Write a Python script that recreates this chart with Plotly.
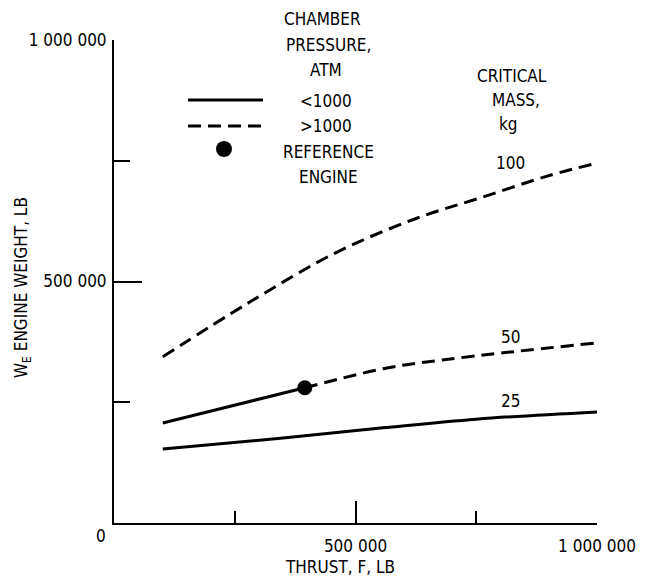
import plotly.graph_objects as go

# ---- data ----
thrust_100 = [101000, 282000, 462000, 627000, 764000, 903000, 1000000]
weight_100 = [344000, 458000, 561000, 631000, 675000, 720000, 745000]

thrust_50_solid = [101000, 395000]
weight_50_solid = [207000, 280000]
thrust_50_dash = [395000, 565000, 676000, 821000, 1000000]
weight_50_dash = [280000, 321000, 337000, 354000, 373000]

thrust_25 = [101000, 350000, 557000, 750000, 1000000]
weight_25 = [153000, 176000, 197000, 215000, 230000]

ref_thrust = [395000]
ref_weight = [280000]

x_tickvals = [0, 500000, 1000000]
x_ticktext = ["", "500 000", "1 000 000"]
y_tickvals = [0, 500000, 1000000]
y_ticktext = ["", "500 000", "1 000 000"]

curve_labels = ["100", "50", "25"]
curve_label_pos = [(820000, 746000), (820000, 385000), (820000, 252000)]

FONT = "DejaVu Sans Condensed, Liberation Sans Narrow, Arial Narrow, sans-serif"
FS = 17
LW = 3
DASH = "13px,7px"

fig = go.Figure()
fig.add_trace(go.Scatter(x=thrust_100, y=weight_100, mode="lines",
                         line=dict(color="black", width=LW, dash=DASH, shape="spline"),
                         showlegend=False))
fig.add_trace(go.Scatter(x=thrust_50_solid, y=weight_50_solid, mode="lines",
                         line=dict(color="black", width=LW), showlegend=False))
fig.add_trace(go.Scatter(x=thrust_50_dash, y=weight_50_dash, mode="lines",
                         line=dict(color="black", width=LW, dash=DASH, shape="spline"),
                         showlegend=False))
fig.add_trace(go.Scatter(x=thrust_25, y=weight_25, mode="lines",
                         line=dict(color="black", width=LW, shape="spline"),
                         showlegend=False))
fig.add_trace(go.Scatter(x=ref_thrust, y=ref_weight, mode="markers",
                         marker=dict(color="black", size=15), showlegend=False,
                         cliponaxis=False))

annotations = []
for lab, (lx, ly) in zip(curve_labels, curve_label_pos):
    annotations.append(dict(x=lx, y=ly, xref="x", yref="y", text=lab, showarrow=False,
                            xanchor="center", yanchor="middle",
                            font=dict(size=FS, color="black", family=FONT)))

def pa(x, y, text, size=FS, **kw):
    annotations.append(dict(x=x, y=y, xref="paper", yref="paper", text=text,
                            showarrow=False, xanchor="center", yanchor="middle",
                            font=dict(size=size, color="black", family=FONT), **kw))

# page body has an 8px margin: the figure is placed at (8, 8) in the window
OFF = 8
W, H = 645 - OFF, 581 - OFF
L, R, T, B = 114 - OFF, 48, 40 - OFF, 58
pw, ph = W - L - R, H - T - B

def px2paper(xp, yp):
    # xp, yp: pixel position in the window
    return (xp - OFF - L) / pw, (H - B - (yp - OFF)) / ph

# Legend block (chamber pressure) and critical mass header
for txt, (xp, yp) in [("CHAMBER", (322, 19)), ("PRESSURE,", (328, 45)), ("ATM", (326, 70)),
                      ("&lt;1000", (326, 101)), ("&gt;1000", (326, 126)),
                      ("REFERENCE", (328, 152)), ("ENGINE", (328, 177)),
                      ("CRITICAL", (512, 76)), ("MASS,", (516, 100)), ("kg", (508, 124))]:
    xx, yy = px2paper(xp, yp)
    pa(xx, yy, txt)

# axis titles and origin label
xx, yy = px2paper(340, 567)
pa(xx, yy, "THRUST, F, LB")
xx, yy = px2paper(22, 288)
pa(xx, yy, "W<sub>E</sub> ENGINE WEIGHT, LB", textangle=-90)
xx, yy = px2paper(101, 536)
pa(xx, yy, "0")

# legend sample lines and marker
shapes = []
x0, y0 = px2paper(188, 100)
x1, _ = px2paper(263, 100)
shapes.append(dict(type="line", xref="paper", yref="paper", x0=x0, x1=x1, y0=y0, y1=y0,
                   line=dict(color="black", width=LW)))
x0, y0 = px2paper(188, 126)
x1, _ = px2paper(263, 126)
shapes.append(dict(type="line", xref="paper", yref="paper", x0=x0, x1=x1, y0=y0, y1=y0,
                   line=dict(color="black", width=LW, dash=DASH)))
cx, cy = px2paper(224, 149)
rx, ry = 8 / pw, 8 / ph
shapes.append(dict(type="circle", xref="paper", yref="paper", x0=cx - rx, x1=cx + rx,
                   y0=cy - ry, y1=cy + ry, fillcolor="black", line=dict(color="black", width=0)))

fig.update_layout(
    width=W, height=H,
    margin=dict(l=L, r=R, t=T, b=B, pad=0, autoexpand=False),
    paper_bgcolor="white", plot_bgcolor="white",
    font=dict(family=FONT, size=FS, color="black"),
    annotations=annotations, shapes=shapes,
    showlegend=False,
)
fig.update_xaxes(range=[0, 1000000], showgrid=False, zeroline=False, automargin=False,
                 showline=True, linecolor="black", linewidth=2,
                 ticks="inside", ticklen=22, tickwidth=2, tickcolor="black",
                 tickvals=x_tickvals, ticktext=x_ticktext, ticklabelstandoff=7,
                 tickfont=dict(size=FS, family=FONT),
                 minor=dict(tickvals=[250000, 750000], ticks="inside", ticklen=12,
                            tickwidth=2, tickcolor="black"))
fig.update_yaxes(range=[0, 1000000], showgrid=False, zeroline=False, automargin=False,
                 showline=True, linecolor="black", linewidth=2,
                 ticks="inside", ticklen=28, tickwidth=2, tickcolor="black",
                 tickvals=y_tickvals, ticktext=y_ticktext,
                 tickfont=dict(size=FS, family=FONT), ticklabelstandoff=2,
                 minor=dict(tickvals=[250000, 750000], ticks="inside", ticklen=16,
                            tickwidth=2, tickcolor="black"))

fig.write_html("out.html")
